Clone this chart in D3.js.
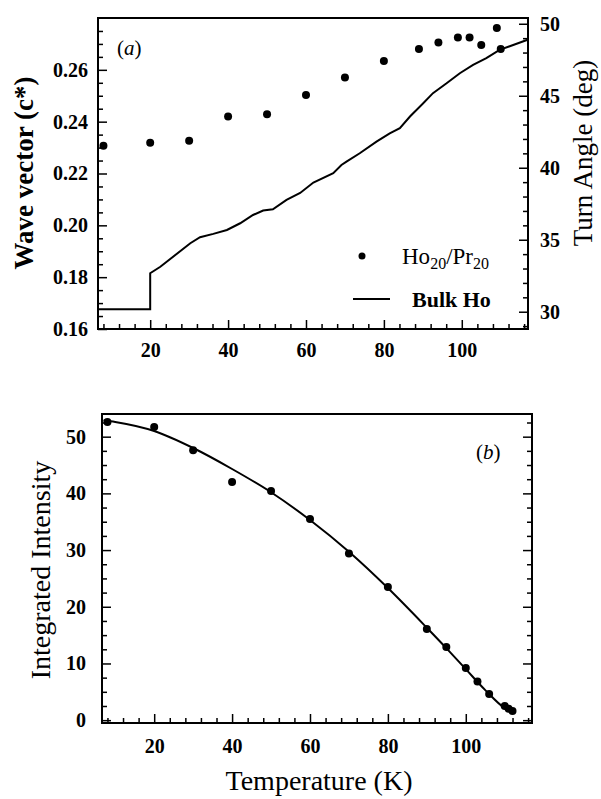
<!DOCTYPE html>
<html>
<head>
<meta charset="utf-8">
<script src="https://cdn.jsdelivr.net/npm/d3@7"></script>
<style>
  body { margin: 0; background: #fff; }
  svg text { font-family: "Liberation Serif", "Times New Roman", serif; fill: #000; }
</style>
</head>
<body>
<div id="chart"></div>
<script>
// ---- data ----
// (a) Ho20/Pr20 superlattice wave vector
const tempA = [8, 20, 30, 40, 50, 60, 70, 80, 89, 94, 99, 102, 105, 109, 110];
const waveA = [0.2307, 0.2319, 0.2326, 0.2420, 0.2429, 0.2503, 0.2570, 0.2634, 0.2680,
               0.2705, 0.2725, 0.2725, 0.2696, 0.2761, 0.2680];

// (a) bulk Ho wave vector
const bulkT = [6.7, 20, 20, 22.6, 30.3, 32.8, 36.2, 39.7, 43.1, 46.4, 49, 51.5, 55, 58.5,
               61.9, 67, 69.1, 70.4, 73.8, 78.1, 81.5, 84.1, 86.7, 90.1, 92.6, 96.1, 99.5,
               102.9, 106.3, 109.7, 113.2, 116.9];
const bulkQ = [0.1676, 0.1676, 0.1815, 0.1840, 0.1931, 0.1954, 0.1967, 0.1982, 0.2008, 0.2040,
               0.2057, 0.2062, 0.2098, 0.2125, 0.2165, 0.2201, 0.2233, 0.2246, 0.2278, 0.2323,
               0.2355, 0.2375, 0.2420, 0.2471, 0.2510, 0.2548, 0.2587, 0.2619, 0.2645, 0.2677,
               0.2696, 0.2716];

// (b) integrated intensity
const tempB = [8, 20, 30, 40, 50, 60, 70, 80, 90, 95, 100, 103, 106, 110, 111, 112];
const intB  = [52.6, 51.7, 47.6, 42.0, 40.4, 35.5, 29.4, 23.5, 16.1, 12.9, 9.2, 6.8, 4.6, 2.5, 2.0, 1.6];

// (b) fitted curve
const fitT = [7, 10, 20, 30, 40, 50, 60, 70, 80, 90, 95, 100, 105, 110, 112.5];
const fitI = [52.9, 52.6, 51.0, 48.0, 44.3, 40.2, 35.3, 29.7, 23.3, 16.3, 12.7, 9.0, 5.3, 2.1, 1.2];

// tick values
const xMajor = [20, 40, 60, 80, 100];
const xMinor = [8, 12, 16, 24, 28, 32, 36, 44, 48, 52, 56, 64, 68, 72, 76, 84, 88, 92, 96, 104, 108, 112, 116];
const waveMajor = [0.16, 0.18, 0.20, 0.22, 0.24, 0.26];
const waveMinor = [0.165, 0.17, 0.175, 0.185, 0.19, 0.195, 0.205, 0.21, 0.215, 0.225, 0.23, 0.235,
                   0.245, 0.25, 0.255, 0.265, 0.27, 0.275];
const angleMajor = [30, 35, 40, 45, 50];
const angleMinor = [29, 31, 32, 33, 34, 36, 37, 38, 39, 41, 42, 43, 44, 46, 47, 48, 49];
const intMajor = [0, 10, 20, 30, 40, 50];
const intMinor = [2.5, 5, 7.5, 12.5, 15, 17.5, 22.5, 25, 27.5, 32.5, 35, 37.5, 42.5, 45, 47.5, 52.5];

const width = 601, height = 799;

const svg = d3.select("#chart")
    .append("svg")
    .attr("width", width)
    .attr("height", height)
    .attr("viewBox", `0 0 ${width} ${height}`);

svg.append("rect").attr("width", width).attr("height", height).attr("fill", "#fff");

function tidy(g) {
    g.select(".domain").remove();
    g.selectAll(".tick line").attr("stroke", "#000").attr("stroke-width", 1.5);
    g.selectAll("text")
        .style("font-family", "'Liberation Serif', 'Times New Roman', serif")
        .style("font-size", "20px")
        .style("font-weight", 700)
        .attr("fill", "#000");
}

// ================= panel (a) =================
const xA = d3.scaleLinear().domain([6.6, 117]).range([98, 528]);
const yA = d3.scaleLinear().domain([0.16, 0.28]).range([329, 18]);
const yA2 = d3.scaleLinear().domain([0.16 * 180, 0.28 * 180]).range([329, 18]);

const gA = svg.append("g");

gA.append("g")
    .attr("transform", `translate(0, ${yA.range()[0]})`)
    .call(d3.axisBottom(xA).tickValues(xMajor).tickSize(-9).tickPadding(14).tickFormat(d3.format("d")))
    .call(tidy);
gA.append("g")
    .attr("transform", `translate(0, ${yA.range()[0]})`)
    .call(d3.axisBottom(xA).tickValues(xMinor).tickSize(-5).tickFormat(""))
    .call(tidy);

gA.append("g")
    .attr("transform", `translate(${xA.range()[0]}, 0)`)
    .call(d3.axisLeft(yA).tickValues(waveMajor).tickSize(-9).tickPadding(10).tickFormat(d3.format(".2f")))
    .call(tidy);
gA.append("g")
    .attr("transform", `translate(${xA.range()[0]}, 0)`)
    .call(d3.axisLeft(yA).tickValues(waveMinor).tickSize(-5).tickFormat(""))
    .call(tidy);

gA.append("g")
    .attr("transform", `translate(${xA.range()[1]}, 0)`)
    .call(d3.axisRight(yA2).tickValues(angleMajor).tickSize(-9).tickPadding(12).tickFormat(d3.format("d")))
    .call(tidy);
gA.append("g")
    .attr("transform", `translate(${xA.range()[1]}, 0)`)
    .call(d3.axisRight(yA2).tickValues(angleMinor).tickSize(-5).tickFormat(""))
    .call(tidy);

// frame
gA.append("rect")
    .attr("x", xA.range()[0]).attr("y", yA.range()[1])
    .attr("width", xA.range()[1] - xA.range()[0])
    .attr("height", yA.range()[0] - yA.range()[1])
    .attr("fill", "none").attr("stroke", "#000").attr("stroke-width", 2);

// bulk Ho line
const bulkData = bulkT.map((t, i) => ({ t: t, q: bulkQ[i] }));
gA.append("path")
    .datum(bulkData)
    .attr("fill", "none")
    .attr("stroke", "#000")
    .attr("stroke-width", 2)
    .attr("d", d3.line().x(d => xA(d.t)).y(d => yA(d.q)));

// superlattice dots
const dataA = tempA.map((t, i) => ({ t: t, q: waveA[i] }));
gA.selectAll(".dotA")
    .data(dataA)
    .enter()
    .append("circle")
    .attr("class", "dotA")
    .attr("cx", d => xA(d.t))
    .attr("cy", d => yA(d.q))
    .attr("r", 4)
    .attr("fill", "#000");

// panel label
gA.append("text")
    .attr("x", 117).attr("y", 55)
    .style("font-size", "21px")
    .html('(<tspan font-style="italic">a</tspan>)');

// legend
const legend = gA.append("g").attr("class", "chart-legend");
legend.append("circle")
    .attr("cx", 362).attr("cy", 256).attr("r", 3.5).attr("fill", "#000");
const legText = legend.append("text")
    .attr("x", 402).attr("y", 264)
    .style("font-size", "23px");
legText.append("tspan").text("Ho");
legText.append("tspan").text("20").attr("dy", 5).style("font-size", "16px");
legText.append("tspan").text("/Pr").attr("dy", -5);
legText.append("tspan").text("20").attr("dy", 5).style("font-size", "16px");

legend.append("line")
    .attr("x1", 353).attr("x2", 390)
    .attr("y1", 299).attr("y2", 299)
    .attr("stroke", "#000").attr("stroke-width", 2);
legend.append("text")
    .attr("x", 412).attr("y", 307)
    .style("font-size", "22px")
    .style("font-weight", 700)
    .text("Bulk Ho");

// axis titles
svg.append("text")
    .attr("transform", "translate(33, 173) rotate(-90)")
    .style("font-size", "27px")
    .style("font-weight", 700)
    .style("text-anchor", "middle")
    .text("Wave vector (c*)");

svg.append("text")
    .attr("transform", "translate(592, 153) rotate(-90)")
    .style("font-size", "27px")
    .style("text-anchor", "middle")
    .text("Turn Angle (deg)");

// ================= panel (b) =================
const xB = d3.scaleLinear().domain([6.6, 117]).range([102, 532]);
const yB = d3.scaleLinear().domain([-0.5, 54]).range([723, 414]);

const gB = svg.append("g");

gB.append("g")
    .attr("transform", `translate(0, ${yB.range()[0]})`)
    .call(d3.axisBottom(xB).tickValues(xMajor).tickSize(-9).tickPadding(16).tickFormat(d3.format("d")))
    .call(tidy);
gB.append("g")
    .attr("transform", `translate(0, ${yB.range()[0]})`)
    .call(d3.axisBottom(xB).tickValues(xMinor).tickSize(-5).tickFormat(""))
    .call(tidy);

gB.append("g")
    .attr("transform", `translate(${xB.range()[0]}, 0)`)
    .call(d3.axisLeft(yB).tickValues(intMajor).tickSize(-9).tickPadding(16).tickFormat(d3.format("d")))
    .call(tidy);
gB.append("g")
    .attr("transform", `translate(${xB.range()[0]}, 0)`)
    .call(d3.axisLeft(yB).tickValues(intMinor).tickSize(-5).tickFormat(""))
    .call(tidy);

// mirrored ticks on the right
gB.append("g")
    .attr("transform", `translate(${xB.range()[1]}, 0)`)
    .call(d3.axisRight(yB).tickValues(intMajor).tickSize(-9).tickFormat(""))
    .call(tidy);
gB.append("g")
    .attr("transform", `translate(${xB.range()[1]}, 0)`)
    .call(d3.axisRight(yB).tickValues(intMinor).tickSize(-5).tickFormat(""))
    .call(tidy);

gB.append("rect")
    .attr("x", xB.range()[0]).attr("y", yB.range()[1])
    .attr("width", xB.range()[1] - xB.range()[0])
    .attr("height", yB.range()[0] - yB.range()[1])
    .attr("fill", "none").attr("stroke", "#000").attr("stroke-width", 2);

// fit curve
const fitData = fitT.map((t, i) => ({ t: t, v: fitI[i] }));
gB.append("path")
    .datum(fitData)
    .attr("fill", "none")
    .attr("stroke", "#000")
    .attr("stroke-width", 2)
    .attr("d", d3.line().curve(d3.curveMonotoneX).x(d => xB(d.t)).y(d => yB(d.v)));

const dataB = tempB.map((t, i) => ({ t: t, v: intB[i] }));
gB.selectAll(".dotB")
    .data(dataB)
    .enter()
    .append("circle")
    .attr("class", "dotB")
    .attr("cx", d => xB(d.t))
    .attr("cy", d => yB(d.v))
    .attr("r", 4)
    .attr("fill", "#000");

gB.append("text")
    .attr("x", 476).attr("y", 459)
    .style("font-size", "21px")
    .html('(<tspan font-style="italic">b</tspan>)');

svg.append("text")
    .attr("transform", "translate(50, 570) rotate(-90)")
    .style("font-size", "28px")
    .style("text-anchor", "middle")
    .text("Integrated Intensity");

svg.append("text")
    .attr("x", 319).attr("y", 790)
    .style("font-size", "28px")
    .style("text-anchor", "middle")
    .text("Temperature (K)");
</script>
</body>
</html>
